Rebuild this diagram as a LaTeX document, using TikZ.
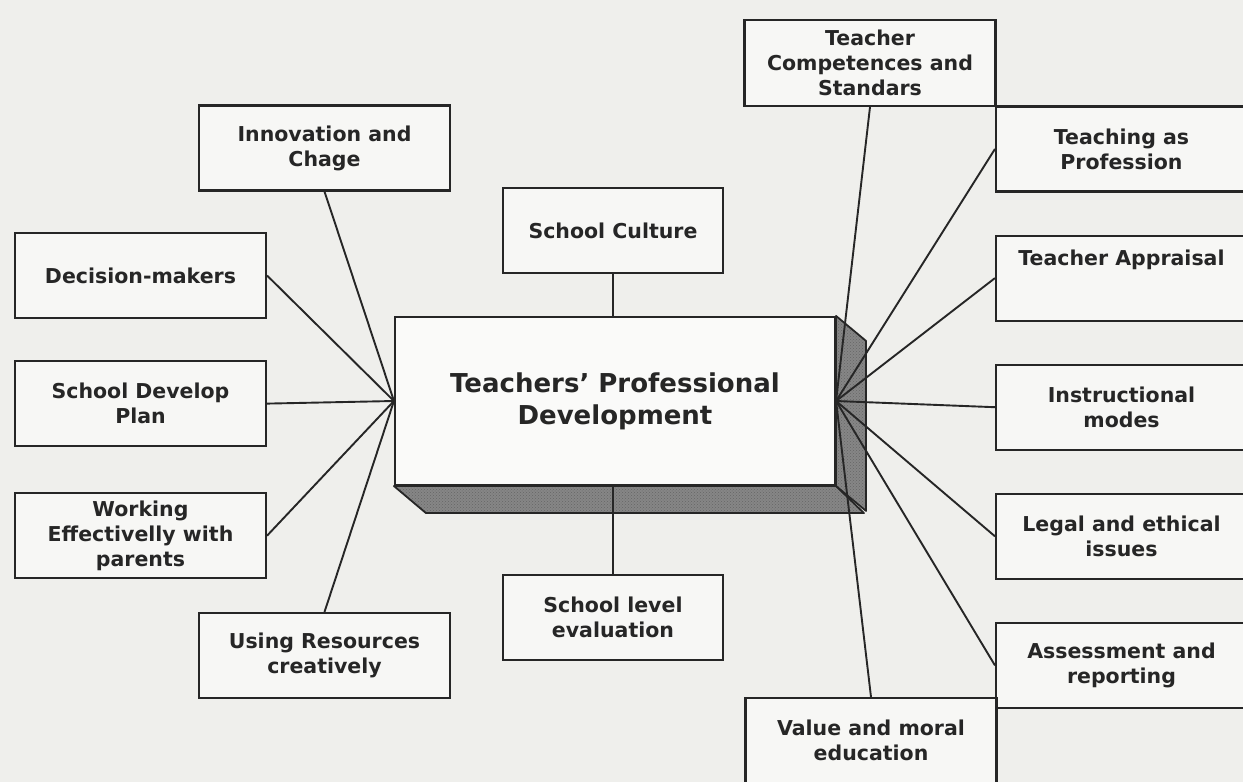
\documentclass[tikz,border=0pt]{standalone}
\usepackage{fontspec}
\setmainfont{DejaVu Sans}
\usepackage{tikz}
\usetikzlibrary{positioning,patterns}
\definecolor{paper}{RGB}{239,239,236}
\definecolor{ink}{RGB}{38,38,38}
\tikzset{
    topic/.style={
           rectangle,
           draw=ink, line width=2.1pt,
           fill=paper!50!white,
           text=ink,
           inner sep=0pt,
           minimum width=251pt,
           minimum height=85pt,
           align=center,
           font=\fontsize{20.5}{25}\selectfont\bfseries,
           },
}
\tikzset{
    link/.style={
           draw=ink,
           line width=1.9pt,
           },
}
\tikzset{
    side/.style={
           draw=ink, line width=1.8pt,
           preaction={fill=gray!95},
           pattern=crosshatch dots,
           pattern color=black!60,
           line join=round,
           },
}

\begin{document}
\begin{tikzpicture}[x=1pt,y=1pt]
\clip (0,0) rectangle (1243,-782);
\fill[paper] (0,0) rectangle (1243,-782);

\node[topic,minimum width=440pt,minimum height=168pt,fill=paper!30!white,
      font=\fontsize{26}{32}\selectfont\bfseries](tpd) at (615,-401){Teachers’ Professional\\Development};
\draw[side] (tpd.south west) -- ++(32,-27) -- ++(438,0) -- (tpd.south east) -- cycle;
\draw[side] (tpd.north east) -- ++(30,-25) -- ++(0,-170) -- (tpd.south east) -- cycle;

\node[topic](inn) at (324.5,-148){Innovation and\\Chage};
\node[topic](dm) at (140.5,-275.5){Decision-makers};
\node[topic,below=41pt of dm](sdp){School Develop\\Plan};
\node[topic,below=45pt of sdp](wep){Working\\Effectivelly with\\parents};
\node[topic](urc) at (324.5,-655.5){Using Resources\\creatively};

\node[topic,minimum width=220pt](culture) at (613,-230.5){School Culture};
\node[topic,minimum width=220pt](eval) at (613,-617.5){School level\\evaluation};

\node[topic,minimum height=86pt](tcs) at (870,-63){Teacher\\Competences and\\Standars};
\node[topic](tap) at (1121.5,-149){Teaching as\\Profession};
\node[topic,below=42pt of tap,text depth=40pt](appr){Teacher Appraisal};
\node[topic,below=42pt of appr](ins){Instructional\\modes};
\node[topic,below=42pt of ins](leg){Legal and ethical\\issues};
\node[topic,below=42pt of leg](ass){Assessment and\\reporting};
\node[topic](vme) at (871,-740.5){Value and moral\\education};

\draw[link] (culture.south) -- (culture.south |- tpd.north);
\draw[link] (eval.north) -- (eval.north |- tpd.south);

\draw[link] (inn.south) -- (tpd.west);
\draw[link] (dm.east) -- (tpd.west);
\draw[link] (sdp.east) -- (tpd.west);
\draw[link] (wep.east) -- (tpd.west);
\draw[link] (urc.north) -- (tpd.west);

\draw[link] (tcs.south) -- (tpd.east);
\draw[link] (tap.west) -- (tpd.east);
\draw[link] (appr.west) -- (tpd.east);
\draw[link] (ins.west) -- (tpd.east);
\draw[link] (leg.west) -- (tpd.east);
\draw[link] (ass.west) -- (tpd.east);
\draw[link] (vme.north) -- (tpd.east);
\end{tikzpicture}
\end{document}
